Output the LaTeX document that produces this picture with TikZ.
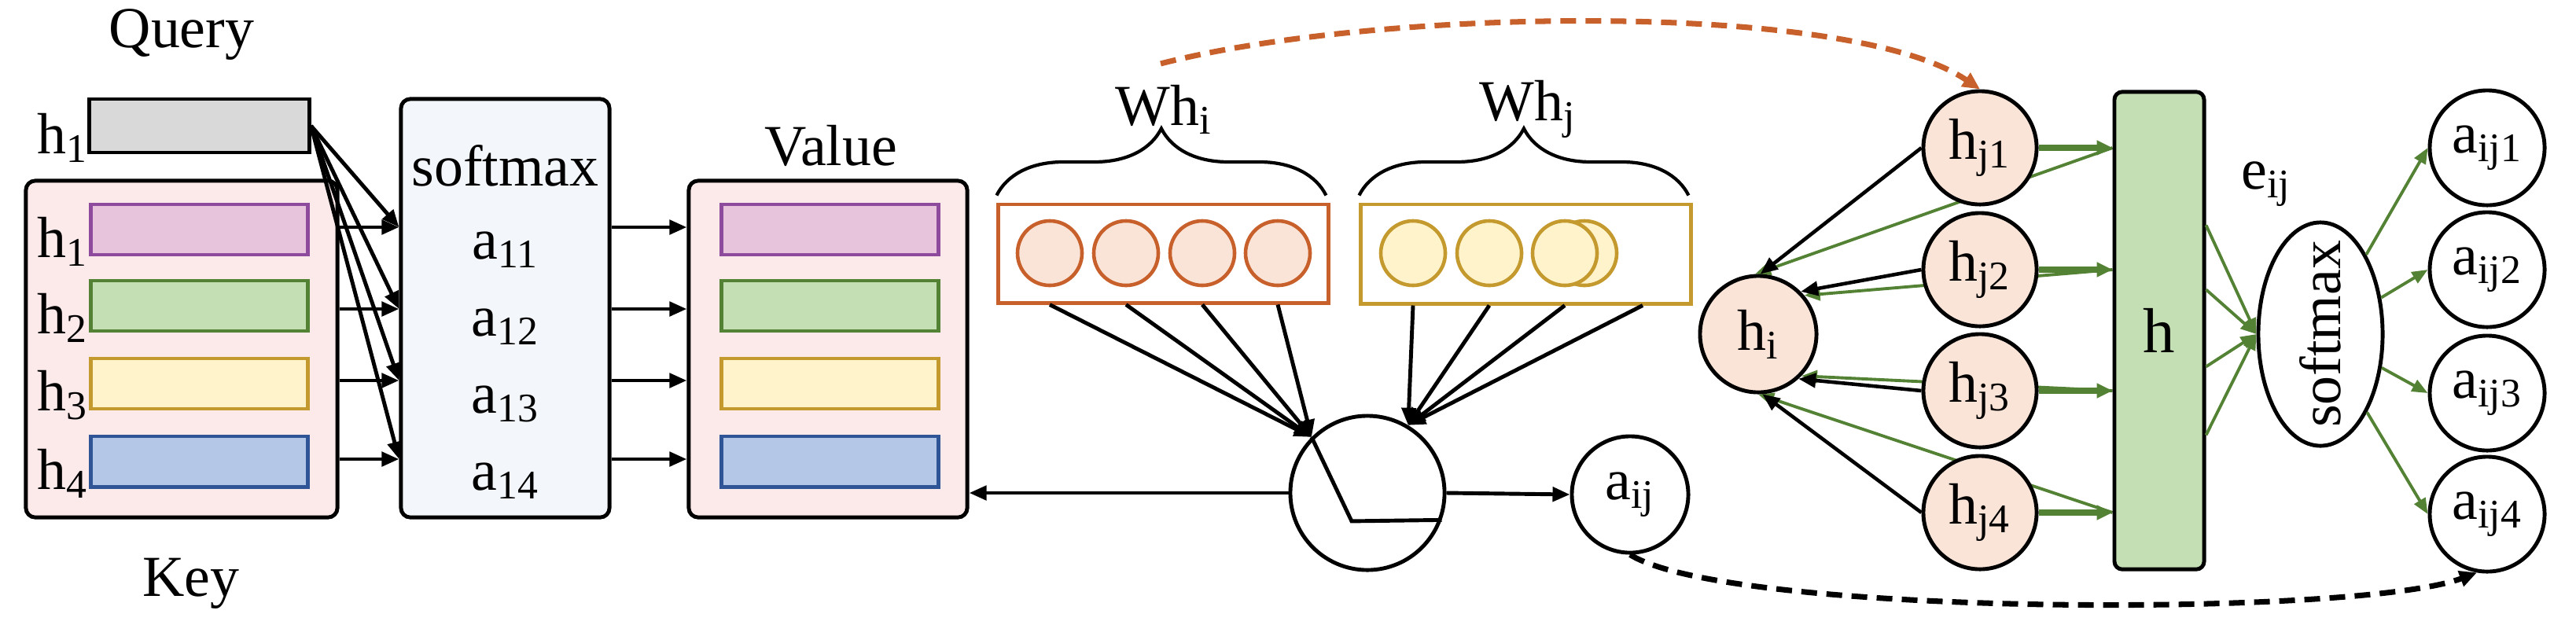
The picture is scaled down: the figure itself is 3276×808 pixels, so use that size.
\documentclass[tikz,border=0pt]{standalone}
\usepackage{fontspec}
\setmainfont{Liberation Serif}
\usetikzlibrary{arrows.meta,decorations.pathreplacing,backgrounds,calc,shapes.geometric}
\newcommand\mysb[1]{\textsubscript{#1}}
\definecolor{qgray}{HTML}{D9D9D9}
\definecolor{boxpink}{HTML}{FCE9EA}
\definecolor{boxblue}{HTML}{F3F6FA}
\definecolor{pstroke}{HTML}{8E4A9C}\definecolor{pfill}{HTML}{E8C3DC}
\definecolor{gstroke}{HTML}{548235}\definecolor{gfill}{HTML}{C5DFB4}
\definecolor{ystroke}{HTML}{C49A2E}\definecolor{yfill}{HTML}{FFF3CC}
\definecolor{bstroke}{HTML}{2F5597}\definecolor{bfill}{HTML}{B4C7E7}
\definecolor{ostroke}{HTML}{C8602B}\definecolor{ofill}{HTML}{F9E4D7}
\begin{document}
\begin{tikzpicture}[x=0.01cm,y=-0.01cm,
  font=\rmfamily\fontsize{21}{25}\selectfont,
  lw/.style={line width=1.4pt},
  arr/.style={lw,-{Triangle[length=0.22cm,width=0.18cm]}},
  garr/.style={line width=1.1pt,draw=gstroke,-{Triangle[length=0.2cm,width=0.16cm]}},
  gthick/.style={line width=2.2pt,draw=gstroke,-{Triangle[length=0.2cm,width=0.18cm]}},
  bar/.style={draw=#1stroke,fill=#1fill,line width=1.4pt,minimum width=2.75cm,minimum height=0.64cm,inner sep=0pt},
  bigbox/.style={draw,lw,rounded corners=0.12cm,minimum width=#1,minimum height=4.28cm,inner sep=0pt},
  circ/.style={circle,draw,lw,inner sep=0pt,minimum size=#1},
  oc/.style={circle,draw=ostroke,fill=ofill,line width=1.3pt,minimum size=0.82cm,inner sep=0pt},
  yc/.style={circle,draw=ystroke,fill=yfill,line width=1.3pt,minimum size=0.82cm,inner sep=0pt},
  dsh/.style={line width=2pt,dash pattern=on 0.2cm off 0.12cm,-{Triangle[length=0.22cm,width=0.2cm]}},
  txt/.style={inner sep=0pt}]
\useasboundingbox (0,0) rectangle (3276,808);
% ---------- left part ----------
\node[txt] (tq) at (231,44) {Query};
\node[txt] (tk) at (243,742) {Key};
\node[txt] (tv) at (1057,185) {Value};
\node[draw,lw,fill=qgray,minimum width=2.79cm,minimum height=0.68cm,inner sep=0pt] (q) at (253.5,160) {};
\node[txt] (hq) at (80,175) {h\mysb{1}};
\node[bigbox=3.96cm,fill=boxpink] (key) at (231,444) {};
\node[bar=p] (k1) at (253.5,292) {};
\node[bar=g] (k2) at (253.5,389) {};
\node[bar=y] (k3) at (253.5,488) {};
\node[bar=b] (k4) at (253.5,587) {};
\node[txt] (hk1) at (80,307) {h\mysb{1}};
\node[txt] (hk2) at (80,404) {h\mysb{2}};
\node[txt] (hk3) at (80,503) {h\mysb{3}};
\node[txt] (hk4) at (80,602) {h\mysb{4}};
\node[bigbox=2.65cm,minimum height=5.32cm,fill=boxblue] (sm) at (642.5,392) {};
\node[txt] (smt) at (642.5,211) {softmax};
\node[txt] (a11) at (642.5,318) {a\mysb{11}};
\node[txt] (a12) at (642.5,416) {a\mysb{12}};
\node[txt] (a13) at (642.5,514) {a\mysb{13}};
\node[txt] (a14) at (642.5,612) {a\mysb{14}};
\node[bigbox=3.54cm,fill=boxpink] (val) at (1053,444) {};
\node[bar=p] (v1) at (1055.5,292) {};
\node[bar=g] (v2) at (1055.5,389) {};
\node[bar=y] (v3) at (1055.5,488) {};
\node[bar=b] (v4) at (1055.5,587) {};
\coordinate (r1) at (0,289);
\coordinate (r2) at (0,393);
\coordinate (r3) at (0,484);
\coordinate (r4) at (0,584);
\foreach \i in {1,...,4}{
  \draw[arr] (key.east |- r\i) -- (sm.west |- r\i);
  \draw[arr] (q.east) -- (sm.west |- r\i);
  \draw[arr] (sm.east |- r\i) -- (val.west |- r\i);
}
% ---------- middle ----------
\node[draw=ostroke,line width=1.4pt,minimum width=4.19cm,minimum height=1.25cm,inner sep=0pt] (wi) at (1479.5,322.5) {};
\node[oc] (oi1) at (1335,322) {};
\node[oc] (oi2) at (1432,322) {};
\node[oc] (oi3) at (1529,322) {};
\node[oc] (oi4) at (1625,322) {};
\node[draw=ystroke,line width=1.4pt,minimum width=4.19cm,minimum height=1.26cm,inner sep=0pt] (wj) at (1940.5,323) {};
\node[yc] (yj1) at (1797,322) {};
\node[yc] (yj2) at (1894,322) {};
\node[yc] (yjb) at (2015,322) {};
\node[yc] (yj3) at (1990,322) {};
\coordinate (yj4) at (2089,322);
\draw[line width=1.2pt,decorate,decoration={brace,amplitude=0.85cm}] (wi.north west) ++(0,-9) -- ++(419,0);
\draw[line width=1.2pt,decorate,decoration={brace,amplitude=0.85cm}] (wj.north west) ++(0,-9) -- ++(419,0);
\node[txt] (twi) at (1480,139) {Wh\mysb{i}};
\node[txt] (twj) at (1943,139) {Wh\mysb{j}};
\node[circ=1.96cm] (cc) at (1739,627) {};
\foreach \c in {oi1,oi2,oi3,oi4}{\draw[arr] (\c |- wi.south) -- (cc.135);}
\foreach \c in {yj1,yj2,yj3,yj4}{\draw[arr] (\c |- wj.south) -- (cc.59);}
\draw[lw] (cc.135) -- ++(51,107) -- (cc.-20);
\draw[arr] (cc.west) -- (cc.west -| val.east);
\node[circ=1.48cm] (aij) at (2073,629) {a\mysb{ij}};
\draw[arr] (cc.east) -- (aij.west);
% ---------- right ----------
\node[circ=1.48cm,fill=ofill] (hi) at (2236,425) {h\mysb{i}};
\node[circ=1.44cm,fill=ofill] (hj1) at (2518,188) {h\mysb{j1}};
\node[circ=1.44cm,fill=ofill] (hj2) at (2518,343) {h\mysb{j2}};
\node[circ=1.44cm,fill=ofill] (hj3) at (2518,497) {h\mysb{j3}};
\node[circ=1.44cm,fill=ofill] (hj4) at (2518,652) {h\mysb{j4}};
\node[draw,lw,fill=gfill,rounded corners=0.1cm,minimum width=1.14cm,minimum height=6.07cm,inner sep=0pt] (hb) at (2746,420.5) {\fontsize{23}{27}\selectfont h};
\node[txt] (eij) at (2882,234) {e\mysb{ij}};
\node[ellipse,draw,lw,minimum width=1.58cm,minimum height=2.84cm,inner sep=0pt] (smx) at (2951,425) {};
\node[txt,rotate=90] (smxt) at (2951,425) {softmax};
\node[circ=1.46cm] (b1) at (3163,188) {a\mysb{ij1}};
\node[circ=1.46cm] (b2) at (3163,343) {a\mysb{ij2}};
\node[circ=1.46cm] (b3) at (3163,500) {a\mysb{ij3}};
\node[circ=1.46cm] (b4) at (3163,654) {a\mysb{ij4}};
\begin{pgfonlayer}{background}
\draw[garr] (hj1.east -| hb.west) -- (hi.93);
\draw[garr] (hj2.east -| hb.west) -- (hi.40);
\draw[garr] (hj3.east -| hb.west) -- (hi.-44);
\draw[garr] (hj4.east -| hb.west) -- (hi.-90);
\end{pgfonlayer}
\draw[arr,line width=1.3pt] (hj1.west) -- (hi.88);
\draw[arr,line width=1.3pt] (hj2.west) -- (hi.45);
\draw[arr,line width=1.3pt] (hj3.west) -- (hi.-48);
\draw[arr,line width=1.3pt] (hj4.west) -- (hi.-86);
\foreach \k in {1,...,4}{\draw[gthick] (hj\k.east) -- (hj\k.east -| hb.west);}
\draw[garr] ($(hb.north east)+(0,172)$) -- (smx.west);
\draw[garr] ($(hb.north east)+(0,254)$) -- (smx.west);
\draw[garr] ($(hb.north east)+(0,352)$) -- (smx.west);
\draw[garr] ($(hb.north east)+(0,439)$) -- (smx.west);
\foreach \k in {1,...,4}{\draw[garr] (smx) -- (b\k.west);}
% dashed curves
\coordinate (ds) at (1476,81);
\draw[dsh,ostroke] (ds) .. controls (1750,10) and (2350,0) .. (hj1.north);
\draw[dsh] (aij.south) .. controls (2200,785) and (3000,785) .. (b4.-100);
\end{tikzpicture}
\end{document}
